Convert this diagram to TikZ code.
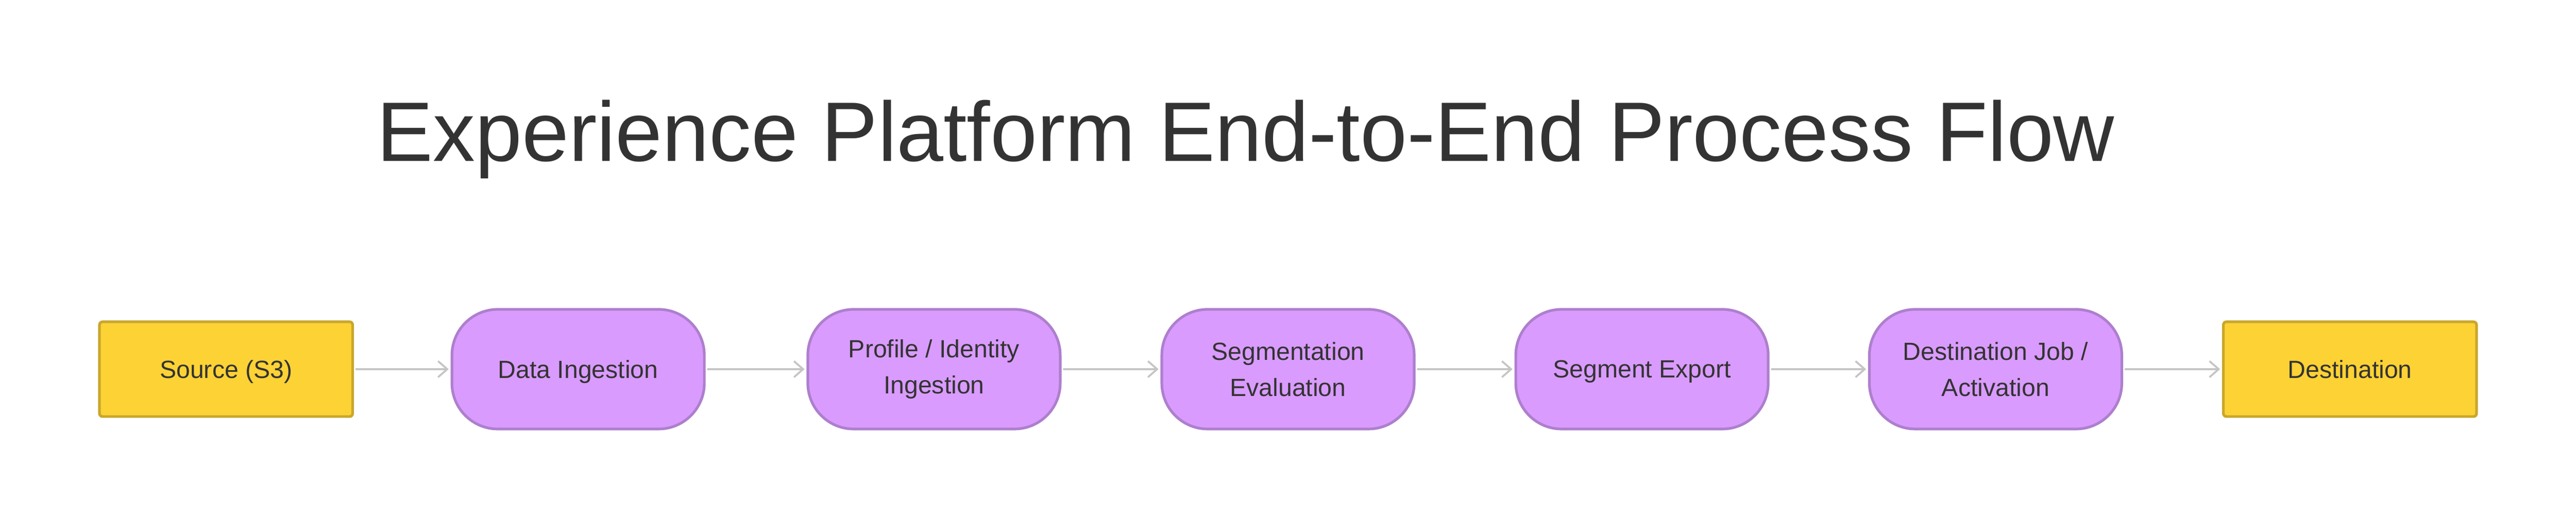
\documentclass[tikz,border=0pt]{standalone}
\usepackage{xcolor}
\usepackage{fontspec}
\setmainfont{Liberation Sans}
\usepackage{tikz}
\usetikzlibrary{arrows.meta}

\definecolor{inkgray}{HTML}{333333}
\definecolor{srcfill}{HTML}{FDD235}
\definecolor{srcline}{HTML}{C9A72C}
\definecolor{stepfill}{HTML}{D99BFE}
\definecolor{stepline}{HTML}{AE7FCD}
\definecolor{flowgray}{HTML}{C5C5C5}

\tikzset{
    endbox/.style={draw=srcline, fill=srcfill, line width=0.07cm, rounded corners=0.08cm,
        minimum width=6.63cm, minimum height=2.48cm, text=inkgray, align=center,
        font=\fontsize{18.5}{27}\selectfont},
    stagebox/.style={draw=stepline, fill=stepfill, line width=0.07cm, rounded corners=1.2cm,
        minimum width=6.61cm, minimum height=3.13cm, text=inkgray, align=center,
        font=\fontsize{18.5}{27}\selectfont},
    oneline/.style={text depth=0pt},
    flow/.style={draw=flowgray, line width=0.05cm, line cap=round,
        -{Straight Barb[length=0.24cm, width=0.42cm, line width=0.05cm]},
        shorten <=0.06cm, shorten >=0.05cm}
}

\begin{document}
\begin{tikzpicture}[scale=1]
    \useasboundingbox (0,0) rectangle (67.46,13.81);% page frame

    \node[anchor=base west, text=inkgray, font=\fontsize{62.8}{70}\selectfont, inner sep=0pt]
    (title) at (9.86,9.60) {Experience Platform End-to-End Process Flow};% title

    \node[endbox, oneline] (source) at (5.92,4.15) {Source (S3)};% start
    \node[stagebox, oneline] (ingest) at (15.14,4.15) {Data Ingestion};
    \node[stagebox] (profile) at (24.46,4.15) {Profile / Identity\\Ingestion};
    \node[stagebox] (segeval) at (33.73,4.15) {Segmentation\\Evaluation};
    \node[stagebox, oneline] (segexport) at (43.00,4.15) {Segment Export};
    \node[stagebox] (activate) at (52.26,4.15) {Destination Job /\\Activation};
    \node[endbox, oneline] (dest) at (61.54,4.15) {Destination};% end

    \draw[flow] (source) -- (ingest);
    \draw[flow] (ingest) -- (profile);
    \draw[flow] (profile) -- (segeval);
    \draw[flow] (segeval) -- (segexport);
    \draw[flow] (segexport) -- (activate);
    \draw[flow] (activate) -- (dest);

\end{tikzpicture}
\end{document}
